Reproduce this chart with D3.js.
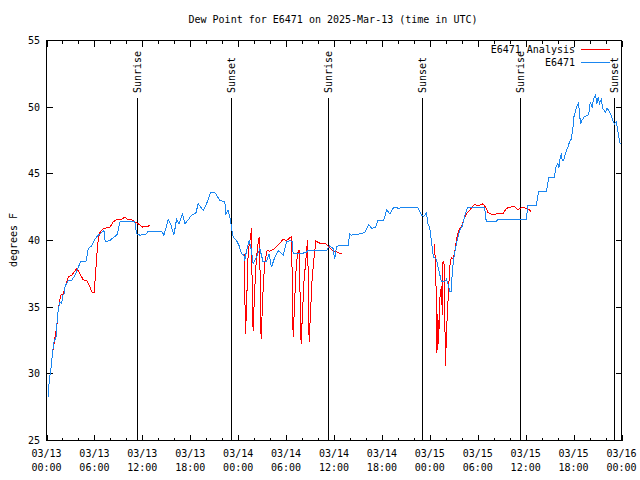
<!DOCTYPE html>
<html><head><meta charset="utf-8">
<script src="https://cdn.jsdelivr.net/npm/d3@7"></script>
<style>
body{margin:0;background:#fff}
svg{display:block}
text{font-family:"DejaVu Sans Mono","Liberation Mono",monospace;font-size:10px;fill:#000}
</style>
</head><body>
<svg id="chart" width="640" height="480"></svg>
<script>
const title = "Dew Point for E6471 on 2025-Mar-13 (time in UTC)";
const yLabel = "degrees F";
const startUTC = Date.UTC(2025, 2, 13, 0, 0);
const spanHours = 72;
const yTicks = [25, 30, 35, 40, 45, 50, 55];
const seriesNames = ["E6471 Analysis", "E6471"];
const seriesColors = ["#ff0000", "#1a86f0"];

// E6471 observations: hours since 03/13 00:00 UTC, dew point (F)
const obsHours = [0.23,0.35,0.56,0.78,0.94,1.19,1.35,1.48,1.69,1.90,
2.03,2.19,2.35,2.73,3.15,3.57,3.98,4.28,4.94,5.23,
5.65,6.07,6.48,6.91,7.19,7.36,7.94,8.44,8.86,9.20,
11.07,11.28,11.70,12.54,12.74,14.41,14.70,15.24,15.54,15.95,
16.29,16.61,17.04,17.33,17.74,18.17,18.70,18.99,19.62,20.04,
20.54,21.08,21.71,22.33,22.46,22.74,23.05,23.17,23.37,23.80,
24.12,24.42,24.71,24.83,25.05,25.37,25.67,25.87,26.30,26.71,
27.12,27.55,27.87,28.17,28.59,29.00,29.63,30.05,30.55,30.80,
30.88,31.72,32.47,32.75,35.06,35.47,35.88,36.09,36.31,36.51,
37.76,37.97,38.18,39.22,39.85,40.35,40.72,41.22,41.47,42.22,
42.60,42.98,43.48,44.22,44.44,46.52,46.73,46.94,47.23,47.57,
47.77,47.98,48.19,48.39,48.48,48.82,49.02,49.23,49.44,49.86,
50.07,50.27,50.48,50.69,50.82,50.98,51.11,51.39,51.73,52.07,
52.23,52.57,52.70,54.86,55.07,56.32,56.52,60.08,60.28,61.33,
61.62,62.58,62.90,63.62,63.74,64.03,64.16,64.33,64.46,64.58,
64.74,65.00,65.28,65.50,65.71,65.91,66.03,66.25,66.41,66.62,
66.75,66.87,67.08,67.37,67.78,68.00,68.08,68.33,68.50,68.75,
68.91,69.08,69.25,69.46,69.66,70.00,70.16,70.41,70.71,70.91,
71.12,71.34,71.54,71.75,71.84];
const obsValues = [28.25,29.6,30.4,31.75,32.4,32.75,34.1,34.9,35.4,35.3,
35.9,36.0,36.6,37.0,37.0,37.4,38.0,38.4,38.4,39.4,
39.6,40.1,40.4,40.6,40.75,39.9,40.0,40.25,40.45,41.4,
41.4,40.5,40.4,40.5,40.7,40.7,40.4,41.55,41.25,40.4,
41.6,41.25,42.0,41.25,41.55,41.9,42.05,42.75,42.25,42.75,
43.6,43.6,43.0,42.9,42.0,42.25,41.5,40.9,40.25,40.0,
39.6,39.0,38.9,38.5,39.25,40.0,39.25,38.25,38.75,39.4,
38.4,38.4,39.0,38.0,38.75,39.25,38.9,39.9,40.0,39.9,
39.0,39.0,39.1,39.25,39.25,39.6,39.4,38.6,39.5,39.6,
39.6,40.5,40.4,40.5,40.6,41.2,40.9,41.0,41.5,41.5,
42.3,42.0,42.5,42.4,42.5,42.45,42.2,41.9,41.8,42.05,
41.25,41.0,40.0,39.0,38.75,38.6,38.0,37.5,36.9,36.9,
37.1,36.75,36.2,36.2,37.75,38.6,39.1,39.9,40.75,41.1,
41.5,42.25,42.45,42.45,41.4,41.4,41.6,41.6,42.65,42.65,
43.65,43.65,44.7,44.7,45.45,45.75,45.45,46.25,46.45,46.0,
46.0,46.55,47.0,47.4,47.6,48.4,49.25,49.75,50.05,50.3,
49.5,48.75,49.05,49.3,49.4,49.75,50.4,50.0,50.6,50.9,
50.25,50.75,50.3,50.6,49.9,49.6,49.9,49.75,49.4,49.0,
48.75,48.9,48.25,47.5,47.25];

// E6471 Analysis (null = missing data gap)
const anaHours = [0.85,1.06,1.28,1.48,1.78,2.10,2.35,2.73,3.15,3.78,
4.10,4.60,5.03,5.44,5.73,5.98,6.28,6.48,6.69,7.11,
7.53,7.94,8.36,8.78,9.41,9.82,10.11,10.66,11.07,11.49,
12.04,12.54,12.95,
null,
24.75,24.83,24.92,25.05,25.21,25.33,25.54,25.67,25.75,25.87,
26.05,26.21,26.42,26.62,26.75,26.87,27.00,27.17,27.37,27.62,
27.96,28.59,29.21,29.63,30.05,30.68,30.80,30.88,31.05,31.21,
31.42,31.63,31.75,31.88,32.05,32.25,32.47,32.68,32.80,32.88,
33.05,33.25,33.47,33.72,34.22,34.84,35.26,35.68,36.09,36.51,36.93,
null,
48.60,48.82,48.89,49.00,49.11,49.23,49.44,49.57,49.65,49.77,
49.86,49.95,50.07,50.19,50.36,50.48,50.69,50.89,51.11,51.39,
51.64,51.95,52.15,52.57,52.98,53.40,53.61,54.02,54.65,54.99,
55.28,55.90,56.32,56.74,57.15,57.57,57.99,58.61,59.03,59.45,
59.65,60.08,60.49,60.70];
const anaValues = [31.8,32.75,33.5,34.9,35.9,36.0,36.6,37.25,37.4,37.9,
37.6,37.05,37.0,36.5,36.1,36.1,38.75,40.1,40.6,40.9,
40.95,41.0,41.4,41.55,41.6,41.75,41.6,41.55,41.4,41.25,
41.0,41.07,41.1,
null,
39.0,36.1,33.0,35.0,38.5,39.5,40.2,40.9,36.5,33.25,
36.0,38.0,39.5,40.25,37.5,32.6,34.5,37.0,38.5,39.25,
39.2,39.4,39.8,40.1,40.0,40.3,36.0,32.8,35.0,37.5,
39.0,39.3,36.0,32.25,34.5,37.0,38.5,40.05,36.5,32.4,
34.5,37.0,38.5,39.95,39.8,39.8,39.6,39.3,39.2,39.1,39.0,
null,
39.75,35.75,31.6,34.5,32.25,35.5,36.6,34.4,38.4,38.4,
35.25,30.6,32.75,34.5,36.4,38.0,38.75,38.6,39.1,40.25,
40.8,41.0,41.4,42.0,42.25,42.6,42.7,42.6,42.75,42.5,
42.1,41.9,42.0,42.05,42.0,42.4,42.5,42.55,42.3,42.45,
42.5,42.4,42.3,42.1];

const sunLabels = ["Sunrise","Sunset","Sunrise","Sunset","Sunrise","Sunset"];
const sunHours = [11.33, 23.15, 35.25, 47.0, 59.25, 71.1];

const toDate = h => new Date(startUTC + h * 3600e3);

const svg = d3.select("#chart");
const L = 46.5, R = 621.5, T = 40.5, B = 440.5;

const x = d3.scaleUtc().domain([toDate(0), toDate(spanHours)]).range([L, R]);
const y = d3.scaleLinear().domain([25, 55]).range([B, T]);

// title
svg.append("text").attr("x", 333).attr("y", 23).attr("text-anchor", "middle").text(title);

// y label
svg.append("text").attr("transform", "translate(13,240) rotate(-90)")
  .attr("text-anchor", "middle").attr("dominant-baseline", "central").text(yLabel);

const g = svg.append("g").attr("shape-rendering", "crispEdges");

// x ticks (every 2 h, labels every 6 h), top and bottom, inward
const xTickHours = d3.range(0, spanHours + 1, 2);
xTickHours.forEach(h => {
  const xx = Math.round(x(toDate(h))) + 0.5;
  const len = h % 6 === 0 ? 6 : 3;
  g.append("line").attr("x1", xx).attr("x2", xx).attr("y1", B).attr("y2", B - len).attr("stroke", "#000");
  g.append("line").attr("x1", xx).attr("x2", xx).attr("y1", T).attr("y2", T + len).attr("stroke", "#000");
});
const fmtDay = d3.utcFormat("%m/%d"), fmtTime = d3.utcFormat("%H:%M");
d3.range(0, spanHours + 1, 6).forEach(h => {
  const d = toDate(h), xx = x(d);
  svg.append("text").attr("x", xx).attr("y", 457).attr("text-anchor", "middle").text(fmtDay(d));
  svg.append("text").attr("x", xx).attr("y", 471).attr("text-anchor", "middle").text(fmtTime(d));
});

// y ticks left and right
yTicks.forEach(v => {
  const yy = Math.round(y(v) - 0.5) + 0.5;
  g.append("line").attr("x1", L).attr("x2", L + 6).attr("y1", yy).attr("y2", yy).attr("stroke", "#000");
  g.append("line").attr("x1", R).attr("x2", R - 6).attr("y1", yy).attr("y2", yy).attr("stroke", "#000");
  svg.append("text").attr("x", 40).attr("y", y(v)).attr("text-anchor", "end")
    .attr("dominant-baseline", "central").text(v);
});

// frame
g.append("rect").attr("x", L).attr("y", T).attr("width", R - L).attr("height", B - T)
  .attr("fill", "none").attr("stroke", "#000");

// sunrise / sunset markers
sunHours.forEach((h, i) => {
  const xx = Math.round(x(toDate(h))) + 0.5;
  g.append("line").attr("x1", xx).attr("x2", xx).attr("y1", 98).attr("y2", B).attr("stroke", "#000");
  svg.append("text").attr("transform", `translate(${xx},93) rotate(-90)`)
    .attr("text-anchor", "start").attr("dominant-baseline", "central").text(sunLabels[i]);
});

// series
const anaData = anaHours.map((h, i) => ({h, v: anaValues[i]}));
const obsData = obsHours.map((h, i) => ({h, v: obsValues[i]}));
const line = d3.line().defined(d => d.h != null && d.v != null)
  .x(d => x(toDate(d.h))).y(d => y(d.v));

svg.append("path").datum(anaData).attr("d", line).attr("fill", "none")
  .attr("stroke", seriesColors[0]).attr("stroke-width", 1).attr("shape-rendering", "crispEdges");
svg.append("path").datum(obsData).attr("d", line).attr("fill", "none")
  .attr("stroke", seriesColors[1]).attr("stroke-width", 1).attr("shape-rendering", "crispEdges");

// legend
const legY = [49.5, 62.5];
seriesNames.forEach((name, i) => {
  svg.append("text").attr("x", 575).attr("y", legY[i]).attr("text-anchor", "end")
    .attr("dominant-baseline", "central").text(name);
  g.append("line").attr("x1", 581).attr("x2", 610).attr("y1", legY[i]).attr("y2", legY[i])
    .attr("stroke", seriesColors[i]);
});
</script>
</body></html>
